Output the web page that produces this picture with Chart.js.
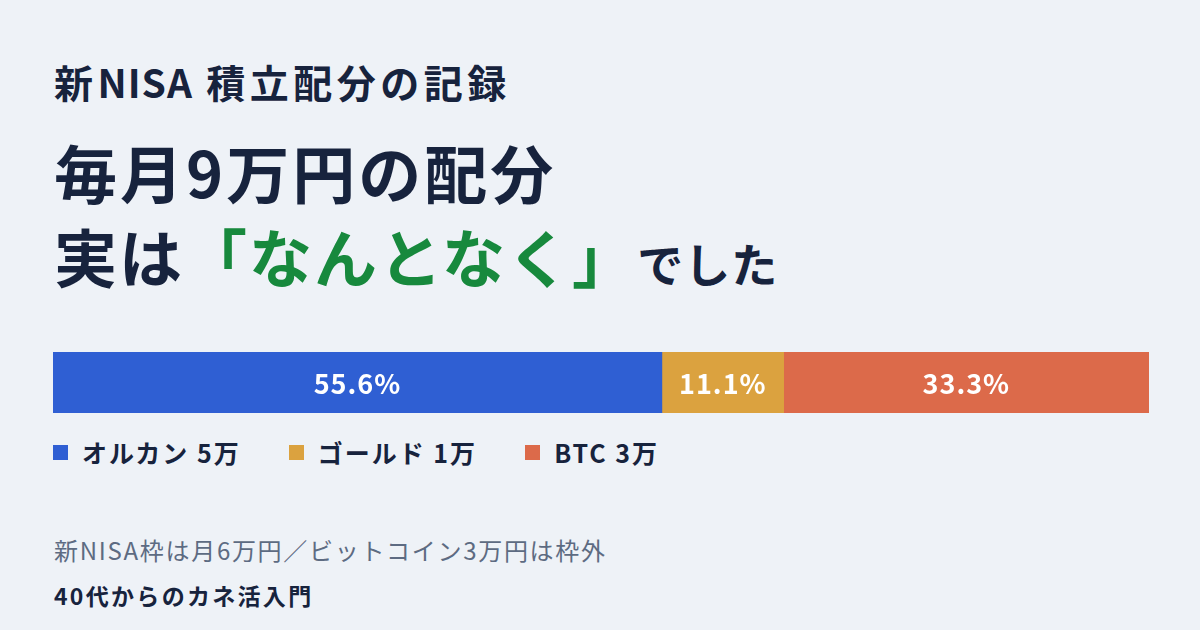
<!DOCTYPE html>
<html lang="ja">
<head>
<meta charset="UTF-8">
<title>新NISA 積立配分の記録</title>
<script src="https://cdn.jsdelivr.net/npm/chart.js@4.4.1/dist/chart.umd.min.js"></script>
<style>
  html, body { margin: 0; padding: 0; }
  body {
    width: 1200px; height: 630px; overflow: hidden; position: relative;
    background: #eef2f7;
    font-family: "Noto Sans CJK JP", "Noto Sans", sans-serif;
    color: #17233d;
  }
  .txt { position: absolute; left: 54px; line-height: 1; white-space: nowrap; }
  #kicker { top: 62px; font-size: 39px; font-weight: 700; letter-spacing: 4.5px; }
  #kicker .lat { letter-spacing: 1px; }
  #head1 { top: 139px; font-size: 63px; font-weight: 700; letter-spacing: 3px; }
  #head2 { top: 223px; font-size: 63px; font-weight: 700; letter-spacing: 2px; }
  #head2 .green { color: #17893d; }
  #head2 .small { font-size: 46px; margin-left: 0; letter-spacing: 1px; }
  #barWrap { position: absolute; left: 53px; top: 352px; width: 1096px; height: 61px; }
  #legend { position: absolute; left: 53px; top: 437px; display: flex; font-size: 25px; font-weight: 700; line-height: 30px; letter-spacing: 2px; }
  #legend .item { display: flex; align-items: center; margin-right: 48px; }
  #legend .sw { width: 15px; height: 15px; margin-right: 14px; }
  #note { top: 538px; font-size: 24px; letter-spacing: 1.7px; color: #5d6b82; }
  #brand { top: 584px; font-size: 23px; font-weight: 700; letter-spacing: 2.3px; }
</style>
</head>
<body>
  <div class="txt" id="kicker">新<span class="lat">NISA</span> 積立配分の記録</div>
  <div class="txt" id="head1">毎月9万円の配分</div>
  <div class="txt" id="head2">実は<span class="green">「なんとなく」</span><span class="small">でした</span></div>

  <div id="barWrap"><canvas id="myChart"></canvas></div>
  <div id="legend"></div>

  <div class="txt" id="note">新NISA枠は月6万円／ビットコイン3万円は枠外</div>
  <div class="txt" id="brand">40代からのカネ活入門</div>

<script>
// monthly allocation, in 万円
var categories = ['オルカン', 'ゴールド', 'BTC'];
var amounts = [5, 1, 3];
var colors = ['#2f5fd3', '#dba23f', '#dc6a4a'];

var total = amounts.reduce(function (a, b) { return a + b; }, 0);

// html legend
var legend = document.getElementById('legend');
categories.forEach(function (c, i) {
  var item = document.createElement('div');
  item.className = 'item';
  item.innerHTML = '<span class="sw" style="background:' + colors[i] + '"></span>' +
    c + ' ' + amounts[i] + '万';
  legend.appendChild(item);
});

// percent label in the middle of each segment
var pctLabels = {
  id: 'pctLabels',
  afterDatasetsDraw: function (chart) {
    var ctx = chart.ctx;
    ctx.save();
    ctx.fillStyle = '#ffffff';
    ctx.font = '700 27px "Noto Sans CJK JP", "Noto Sans", sans-serif';
    ctx.letterSpacing = '1px';
    ctx.textAlign = 'center';
    ctx.textBaseline = 'middle';
    chart.data.datasets.forEach(function (ds, i) {
      var el = chart.getDatasetMeta(i).data[0];
      var x = (el.x + el.base) / 2;
      var pct = (ds.data[0] / total * 100).toFixed(1) + '%';
      ctx.fillText(pct, x, el.y + 1);
    });
    ctx.restore();
  }
};

var ctx = document.getElementById('myChart').getContext('2d');
var chart = new Chart(ctx, {
  type: 'bar',
  data: {
    labels: [''],
    datasets: categories.map(function (c, i) {
      return {
        label: c,
        data: [amounts[i]],
        backgroundColor: colors[i],
        borderWidth: 0,
        barPercentage: 1,
        categoryPercentage: 1
      };
    })
  },
  options: {
    indexAxis: 'y',
    responsive: true,
    maintainAspectRatio: false,
    animation: false,
    layout: { padding: 0 },
    scales: {
      x: { stacked: true, min: 0, max: total, display: false },
      y: { stacked: true, display: false }
    },
    plugins: {
      legend: { display: false },
      tooltip: { enabled: false }
    }
  },
  plugins: [pctLabels]
});
</script>
</body>
</html>
